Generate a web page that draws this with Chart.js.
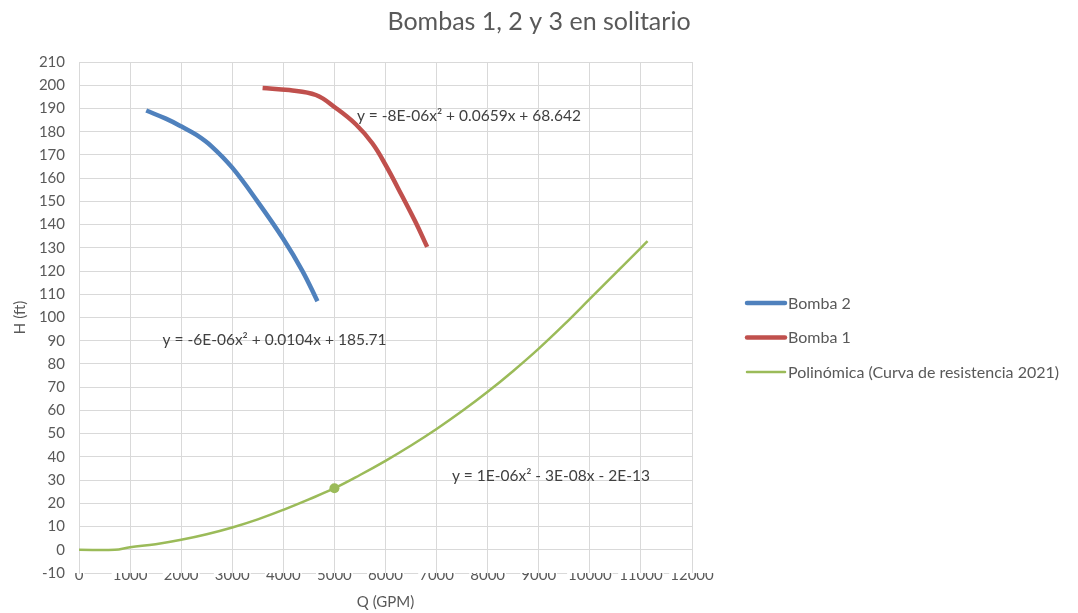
<!DOCTYPE html>
<html>
<head>
<meta charset="utf-8">
<script src="https://cdn.jsdelivr.net/npm/chart.js@4/dist/chart.umd.min.js"></script>
<style>
  html, body { margin: 0; padding: 0; background: #ffffff; }
  canvas { display: block; }
</style>
</head>
<body>
<canvas id="chart" width="1078" height="613"></canvas>
<script>
// Pump curves (Q in GPM, H in ft)
const bomba2Q = [1316, 1700, 2000, 2300, 2600, 3000, 3500, 4000, 4375, 4668];
const bomba2H = [189.1, 185.6, 182.3, 178.6, 173.6, 164.5, 149.8, 133.8, 120.0, 107.0];

const bomba1Q = [3594, 4115, 4637, 5027, 5418, 5742, 6004, 6328, 6590, 6816];
const bomba1H = [198.8, 197.9, 195.8, 190.2, 183.2, 175.0, 165.6, 152.2, 141.0, 130.4];

// System resistance curve (polynomial trend)
const curvaQ = [0, 700, 1000, 1500, 2000, 2500, 3000, 3500, 4000, 4500, 5000, 5500, 6000, 6500, 7000, 7500, 8000, 8500, 9000, 9500, 10000, 10500, 11000, 11130];
const curvaH = [0, 0, 1.1, 2.4, 4.3, 6.7, 9.6, 13.1, 17.2, 21.7, 26.5, 32.2, 38.3, 44.9, 52.0, 59.7, 68.0, 77.0, 86.6, 97.0, 108.0, 119.0, 130.0, 132.9];
// Measured operating point on the resistance curve
const puntoQ = 5000;

const seriesNames = ['Bomba 2', 'Bomba 1', 'Polinómica (Curva de resistencia 2021)'];

// Trendline equations and where they sit (data units)
const eqTexts = ['y = -8E-06x\u00B2 + 0.0659x + 68.642', 'y = -6E-06x\u00B2 + 0.0104x + 185.71', 'y = 1E-06x\u00B2 - 3E-08x - 2E-13'];
const eqQ = [5440, 1635, 7300];
const eqH = [186.8, 90.1, 31.7];

// Axis ticks
const xTicks = [0, 1000, 2000, 3000, 4000, 5000, 6000, 7000, 8000, 9000, 10000, 11000, 12000];
const yTicks = [-10, 0, 10, 20, 30, 40, 50, 60, 70, 80, 90, 100, 110, 120, 130, 140, 150, 160, 170, 180, 190, 200, 210];

const FONT = 'Lato, "Open Sans", "DejaVu Sans", sans-serif';
const TEXT = '#595959';
const GRID = '#d9d9d9';

const toPoints = (q, h) => q.map((v, i) => ({ x: v, y: h[i] }));

const equationLabels = {
  id: 'equationLabels',
  afterDatasetsDraw(chart) {
    const { ctx, scales } = chart;
    ctx.save();
    ctx.font = '15.5px ' + FONT;
    ctx.fillStyle = '#404040';
    ctx.textAlign = 'left';
    ctx.textBaseline = 'middle';
    eqTexts.forEach((t, i) => {
      ctx.fillText(t, scales.x.getPixelForValue(eqQ[i]), scales.y.getPixelForValue(eqH[i]));
    });
    ctx.restore();
  }
};

const sideLegend = {
  id: 'sideLegend',
  afterDraw(chart) {
    const ctx = chart.ctx;
    const x0 = 747, x1 = 785, top = 303, step = 34.5;
    ctx.save();
    ctx.font = '16px ' + FONT;
    ctx.textAlign = 'left';
    ctx.textBaseline = 'middle';
    chart.data.datasets.forEach((ds, i) => {
      const y = top + i * step;
      ctx.strokeStyle = ds.borderColor;
      ctx.lineWidth = ds.borderWidth;
      ctx.lineCap = 'round';
      ctx.beginPath();
      ctx.moveTo(x0, y);
      ctx.lineTo(x1, y);
      ctx.stroke();
      ctx.fillStyle = TEXT;
      ctx.fillText(ds.label, x1 + 3, y + 0.5);
    });
    ctx.restore();
  }
};

new Chart(document.getElementById('chart'), {
  type: 'scatter',
  data: {
    datasets: [
      {
        label: seriesNames[0],
        data: toPoints(bomba2Q, bomba2H),
        showLine: true,
        borderColor: '#4f81bd',
        backgroundColor: '#4f81bd',
        borderWidth: 4.5,
        pointRadius: 0,
        tension: 0.4
      },
      {
        label: seriesNames[1],
        data: toPoints(bomba1Q, bomba1H),
        showLine: true,
        borderColor: '#c0504d',
        backgroundColor: '#c0504d',
        borderWidth: 4.5,
        pointRadius: 0,
        tension: 0.4
      },
      {
        label: seriesNames[2],
        data: toPoints(curvaQ, curvaH),
        showLine: true,
        borderColor: '#9bbb59',
        backgroundColor: '#9bbb59',
        borderWidth: 2.5,
        pointRadius: curvaQ.map(q => (q === puntoQ ? 5 : 0)),
        pointBorderWidth: 0,
        tension: 0.4
      }
    ]
  },
  options: {
    responsive: false,
    animation: false,
    layout: { padding: 0 },
    plugins: {
      legend: { display: false },
      tooltip: { enabled: false },
      title: {
        display: true,
        text: 'Bombas 1, 2 y 3 en solitario',
        color: TEXT,
        font: { family: FONT, size: 25, weight: 'normal' },
        padding: { top: 7, bottom: 25 }
      }
    },
    scales: {
      x: {
        type: 'linear',
        min: 0,
        max: 12000,
        afterBuildTicks: s => { s.ticks = xTicks.map(v => ({ value: v })); },
        grid: { color: GRID, lineWidth: 1, drawTicks: false },
        border: { color: GRID },
        ticks: {
          color: TEXT,
          font: { family: FONT, size: 15 },
          padding: -7,
          maxRotation: 0,
          autoSkip: false,
          callback: v => String(v),
          showLabelBackdrop: true,
          backdropColor: '#ffffff',
          backdropPadding: { left: 1, right: 1, top: 0, bottom: 0 }
        },
        title: {
          display: true,
          text: 'Q (GPM)',
          color: TEXT,
          font: { family: FONT, size: 15 },
          padding: { top: 0, bottom: 2 }
        },
        afterFit: s => { s.height = 40; }
      },
      y: {
        type: 'linear',
        min: -10,
        max: 210,
        afterBuildTicks: s => { s.ticks = yTicks.map(v => ({ value: v })); },
        grid: { color: GRID, lineWidth: 1, drawTicks: false },
        border: { color: GRID },
        ticks: {
          color: TEXT,
          font: { family: FONT, size: 15 },
          padding: 14,
          autoSkip: false,
          callback: v => String(v)
        },
        title: {
          display: true,
          text: 'H (ft)',
          color: TEXT,
          font: { family: FONT, size: 15 },
          padding: { top: 11, bottom: 0 }
        },
        afterFit: s => { s.width = 79; }
      },
      legendSpace: {
        type: 'linear',
        position: 'right',
        display: true,
        grid: { display: false },
        border: { display: false },
        ticks: { display: false },
        afterFit: s => { s.width = 386; }
      }
    }
  },
  plugins: [equationLabels, sideLegend]
});
</script>
</body>
</html>
